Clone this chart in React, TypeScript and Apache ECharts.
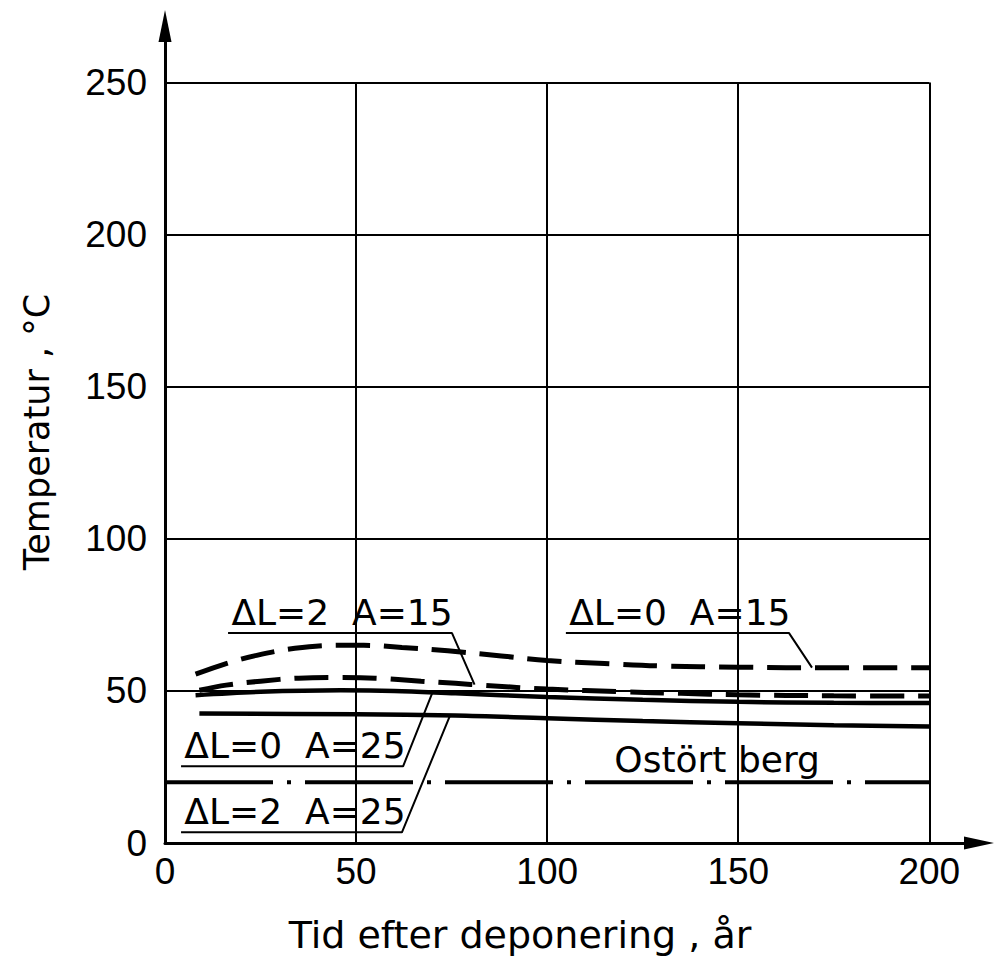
import React, { useEffect, useRef } from "react";
import * as echarts from "echarts";

// Axis ticks
const xTicks = [0, 50, 100, 150, 200];
const yTicks = [0, 50, 100, 150, 200, 250];
const xTop = 200;
const yTop = 250;

// Temperature (°C) against time after deposition (years)
const years_dL0_A15 = [8, 16, 24, 34, 46, 52, 62, 74, 88, 100, 115, 130, 150, 175, 200];
const temp_dL0_A15 = [55.5, 59, 61.7, 64, 65, 65, 64.3, 63.2, 61.5, 60, 59, 58.2, 57.8, 57.6, 57.6];

const years_dL2_A15 = [9, 16, 25, 35, 46, 55, 67, 76, 84, 100, 120, 135, 150, 175, 200];
const temp_dL2_A15 = [50.2, 51.9, 53.2, 54.2, 54.4, 54.2, 53.2, 52.5, 51.8, 50.6, 49.7, 49.2, 48.7, 48.4, 48.3];

const years_dL0_A25 = [8, 25, 46, 60, 76, 100, 125, 150, 175, 200];
const temp_dL0_A25 = [48.6, 49.7, 50.2, 50, 49.2, 48, 47.1, 46.4, 46.1, 46];

const years_dL2_A25 = [9, 50, 76, 100, 125, 150, 175, 200];
const temp_dL2_A25 = [42.6, 42.3, 41.9, 41, 40.1, 39.4, 38.7, 38.3];

// Undisturbed rock temperature
const years_rock = [0, 200];
const temp_rock = [20, 20];

const curveNames = ["ΔL=0  A=15", "ΔL=2  A=15", "ΔL=0  A=25", "ΔL=2  A=25"];

// Labels with an underline and a leader to the curve they name
const annotations = [
  { text: "ΔL=2  A=15", curve: 1, x0: 16.5, x1: 75.1, y: 69, tx: 81 },
  { text: "ΔL=0  A=15", curve: 0, x0: 104.9, x1: 163.3, y: 69, tx: 169.3 },
  { text: "ΔL=0  A=25", curve: 2, x0: 4.2, x1: 62.3, y: 25.2, tx: 70 },
  { text: "ΔL=2  A=25", curve: 3, x0: 4.2, x1: 62.0, y: 3.5, tx: 74.6 },
];

const rockLabel = { text: "Ostört berg", x: 117.7, y: 20.6 };

const curveXs = [years_dL0_A15, years_dL2_A15, years_dL0_A25, years_dL2_A25];
const curveYs = [temp_dL0_A15, temp_dL2_A15, temp_dL0_A25, temp_dL2_A25];

function valueAt(xs: number[], ys: number[], x: number): number {
  for (let i = 0; i < xs.length - 1; i++) {
    if (x >= xs[i] && x <= xs[i + 1]) {
      const t = (x - xs[i]) / (xs[i + 1] - xs[i]);
      return ys[i] + t * (ys[i + 1] - ys[i]);
    }
  }
  return ys[ys.length - 1];
}

const zip = (xs: number[], ys: number[]) => xs.map((x, i) => [x, ys[i]]);

const TEXT_FONT = "'DejaVu Sans', sans-serif";
const TICK_FONT = "'Liberation Sans', Arial, sans-serif";

export default function App() {
  const ref = useRef<HTMLDivElement>(null);

  useEffect(() => {
    if (!ref.current) return;
    const chart = echarts.init(ref.current, undefined, { renderer: "svg" });

    const gridLines: any[] = [];
    xTicks.filter((v) => v > 0).forEach((v) => {
      gridLines.push([{ coord: [v, 0] }, { coord: [v, yTop] }]);
    });
    yTicks.filter((v) => v > 0).forEach((v) => {
      gridLines.push([{ coord: [0, v] }, { coord: [xTop, v] }]);
    });

    const curveStyles = [
      { type: [34, 14], width: 5 },
      { type: [34, 14], width: 5 },
      { type: "solid", width: 4.5 },
      { type: "solid", width: 4.5 },
    ];

    const series: any[] = [];

    series.push({
      name: "Ostört berg",
      type: "line",
      data: zip(years_rock, temp_rock),
      symbol: "none",
      lineStyle: { color: "#000", width: 4, type: [108, 14, 4, 14] },
      z: 3,
      markLine: {
        silent: true,
        symbol: ["none", "none"],
        label: { show: false },
        lineStyle: { color: "#000", width: 2, type: "solid" },
        data: gridLines,
        z: 1,
      },
    });

    curveNames.forEach((name, i) => {
      series.push({
        name,
        type: "line",
        data: zip(curveXs[i], curveYs[i]),
        symbol: "none",
        smooth: 0.35,
        lineStyle: { color: "#000", ...curveStyles[i] },
        z: 4,
      });
    });

    annotations.forEach((a) => {
      const ty = valueAt(curveXs[a.curve], curveYs[a.curve], a.tx);
      series.push({
        name: a.text + " leader",
        type: "line",
        data: [
          [a.x0, a.y],
          [a.x1, a.y],
          [a.tx, ty],
        ],
        symbol: "none",
        lineStyle: { color: "#000", width: 2 },
        z: 5,
      });
    });

    series.push({
      name: "labels",
      type: "scatter",
      symbolSize: 1,
      itemStyle: { color: "rgba(0,0,0,0)", opacity: 1 },
      data: [
        ...annotations.map((a) => ({ value: [a.x0 + 1, a.y], name: a.text })),
        { value: [rockLabel.x, rockLabel.y], name: rockLabel.text },
      ],
      label: {
        show: true,
        position: [0, 0],
        align: "left",
        verticalAlign: "bottom",
        formatter: (p: any) => p.name,
        color: "#000",
        opacity: 1,
        textBorderWidth: 0,
        fontFamily: TEXT_FONT,
        fontSize: 36,
        lineHeight: 40,
      },
      z: 6,
    });

    chart.setOption({
      animation: false,
      backgroundColor: "#fff",
      grid: { left: 165, right: 15, top: 26, bottom: 119, containLabel: false },
      xAxis: {
        type: "value",
        min: 0,
        max: 213,
        interval: 50,
        axisLine: {
          show: true,
          symbol: ["none", "triangle"],
          symbolSize: [13, 30],
          lineStyle: { color: "#000", width: 3 },
        },
        axisTick: { show: false },
        splitLine: { show: false },
        axisLabel: {
          formatter: (v: number) => (xTicks.includes(v) ? String(v) : ""),
          color: "#000",
          fontFamily: TICK_FONT,
          fontSize: 37,
          margin: 10,
          showMaxLabel: true,
        },
      },
      yAxis: {
        type: "value",
        min: 0,
        max: 268.6,
        interval: 50,
        axisLine: {
          show: true,
          symbol: ["none", "triangle"],
          symbolSize: [13, 32],
          lineStyle: { color: "#000", width: 3 },
        },
        axisTick: { show: false },
        splitLine: { show: false },
        axisLabel: {
          formatter: (v: number) => (yTicks.includes(v) ? String(v) : ""),
          color: "#000",
          fontFamily: TICK_FONT,
          fontSize: 37,
          margin: 18,
        },
      },
      graphic: [
        {
          type: "text",
          x: 520,
          y: 935,
          style: {
            text: "Tid efter deponering , år",
            fill: "#000",
            fontFamily: TEXT_FONT,
            fontSize: 38,
            align: "center",
            verticalAlign: "middle",
          },
        },
        {
          type: "text",
          x: 37,
          y: 432,
          rotation: Math.PI / 2,
          style: {
            text: "Temperatur , °C",
            fill: "#000",
            fontFamily: TEXT_FONT,
            fontSize: 35,
            align: "center",
            verticalAlign: "middle",
          },
        },
      ],
      series,
    });

    return () => chart.dispose();
  }, []);

  return (
    <div
      ref={ref}
      style={{ position: "absolute", left: 0, top: 0, width: 994, height: 962 }}
    />
  );
}
